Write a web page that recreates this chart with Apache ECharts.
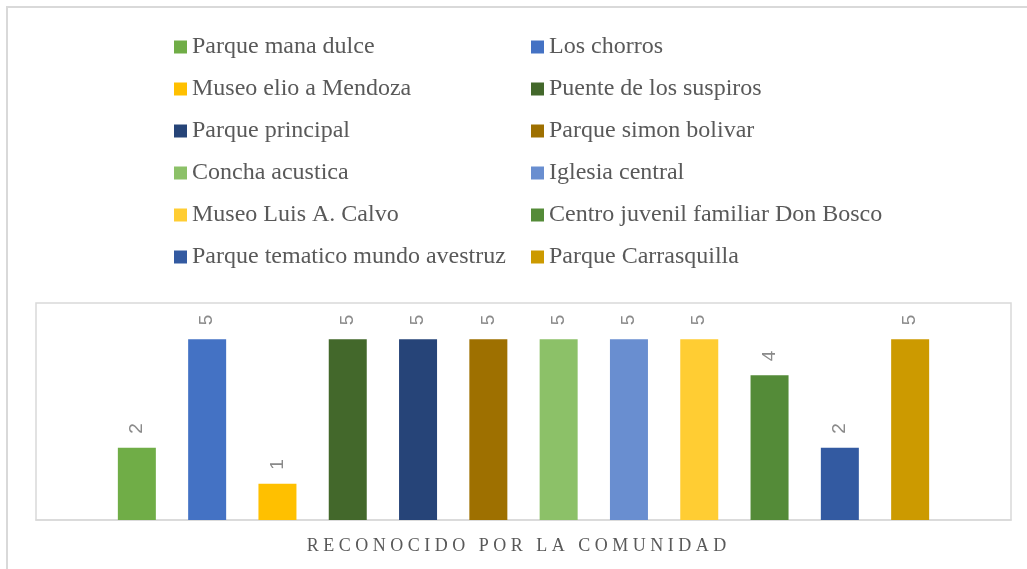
<!DOCTYPE html>
<html>
<head>
<meta charset="utf-8">
<script src="https://cdn.jsdelivr.net/npm/echarts@6/dist/echarts.min.js"></script>
<style>
  html, body { margin: 0; padding: 0; background: #fff; }
  #chart { width: 1027px; height: 569px; }
</style>
</head>
<body>
<div id="chart"></div>
<script>
// data
const categories = ['RECONOCIDO POR LA COMUNIDAD'];
const seriesNames = [
  'Parque mana dulce', 'Los chorros',
  'Museo elio a Mendoza', 'Puente de los suspiros',
  'Parque principal', 'Parque simon bolivar',
  'Concha acustica', 'Iglesia central',
  'Museo Luis A. Calvo', 'Centro juvenil familiar Don Bosco',
  'Parque tematico mundo avestruz', 'Parque Carrasquilla'
];
const values = [2, 5, 1, 5, 5, 5, 5, 5, 5, 4, 2, 5];
const colors = [
  '#70ad47', '#4472c4', '#ffc000', '#43682b', '#264478', '#9e7000',
  '#8cc168', '#698ed0', '#ffcd33', '#548b38', '#335aa1', '#cc9a00'
];

const chart = echarts.init(document.getElementById('chart'));

const legendStyle = {
  orient: 'vertical',
  top: 35,
  padding: 0,
  icon: 'rect',
  itemWidth: 13,
  itemHeight: 13,
  itemGap: 18,
  textStyle: { fontFamily: 'Liberation Serif', fontSize: 24, lineHeight: 24, color: '#595959' }
};

const option = {
  backgroundColor: '#fff',
  animation: false,
  color: colors,
  graphic: [{
    type: 'rect',
    shape: { x: 7, y: 7, width: 1060, height: 620 },
    style: { fill: 'none', stroke: '#d9d9d9', lineWidth: 2 },
    silent: true
  }],
  legend: [
    Object.assign({ left: 174, data: seriesNames.filter((_, i) => i % 2 === 0) }, legendStyle),
    Object.assign({ left: 531, data: seriesNames.filter((_, i) => i % 2 === 1) }, legendStyle)
  ],
  grid: {
    left: 36, right: 16, top: 303, bottom: 49,
    show: true, borderColor: '#d9d9d9', borderWidth: 1.5
  },
  xAxis: {
    type: 'category',
    data: categories,
    axisLine: { lineStyle: { color: '#d9d9d9', width: 1.5 } },
    axisTick: { show: false },
    axisLabel: {
      margin: 17,
      color: '#595959',
      fontFamily: 'Liberation Serif',
      fontSize: 18,
      padding: [0, 14, 0, 0],
      formatter: v => v.split('').join(' ')
    }
  },
  yAxis: {
    type: 'value',
    min: 0,
    max: 6,
    show: false,
    splitLine: { show: false }
  },
  series: seriesNames.map((name, i) => ({
    name,
    type: 'bar',
    barWidth: 38,
    barGap: '85%',
    data: [values[i]],
    itemStyle: { color: colors[i] },
    label: {
      show: true,
      position: 'top',
      rotate: 90,
      align: 'left',
      verticalAlign: 'middle',
      distance: 14,
      color: '#8a8a8a',
      fontFamily: 'Liberation Sans',
      fontSize: 19
    }
  }))
};

chart.setOption(option);
</script>
</body>
</html>
